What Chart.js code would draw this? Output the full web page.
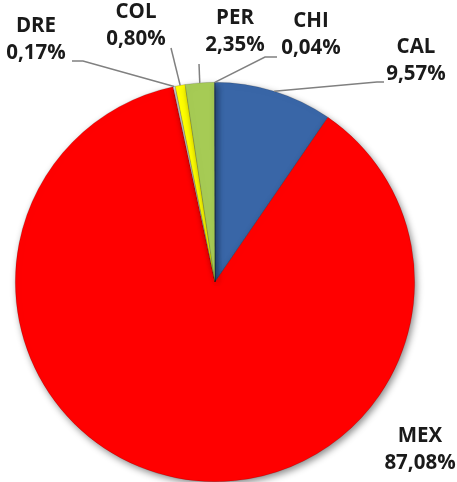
<!DOCTYPE html>
<html>
<head>
<meta charset="utf-8">
<script src="https://cdn.jsdelivr.net/npm/chart.js@4/dist/chart.umd.min.js"></script>
<style>
html,body{margin:0;padding:0;background:#fff;}
#wrap{width:457px;height:482px;position:relative;}
</style>
</head>
<body>
<div id="wrap"><canvas id="c" width="457" height="482"></canvas></div>
<script>
const categories = ["CAL", "MEX", "DRE", "COL", "PER", "CHI"];
const shares = [9.57, 87.08, 0.17, 0.80, 2.35, 0.04];
const valueLabels = ["9,57%", "87,08%", "0,17%", "0,80%", "2,35%", "0,04%"];
const colors = ["#3966A7", "#FF0000", "#D9D9D9", "#FFFF00", "#A6CB55", "#2F4F7F"];

// label layout: text center x, first line y, leader line path (from label to arc)
const labelLayout = [
  {x: 416, y: 47, line: [[384, 82], [377, 82]]},
  {x: 420, y: 436, line: null},
  {x: 36, y: 26, line: [[72, 61], [83, 61]]},
  {x: 136, y: 12, line: [[171, 48]]},
  {x: 235, y: 18, line: [[199, 64]]},
  {x: 311, y: 21, line: [[277, 57], [265, 57]]}
];

const labelPlugin = {
  id: 'pieLabels',
  afterDatasetsDraw(chart) {
    const ctx = chart.ctx;
    const meta = chart.getDatasetMeta(0);
    ctx.save();
    meta.data.forEach((arc, i) => {
      const L = labelLayout[i];
      if (L.line) {
        const mid = (arc.startAngle + arc.endAngle) / 2;
        const ax = arc.x + Math.cos(mid) * arc.outerRadius;
        const ay = arc.y + Math.sin(mid) * arc.outerRadius;
        ctx.beginPath();
        ctx.strokeStyle = '#808080';
        ctx.lineWidth = 1.5;
        ctx.moveTo(L.line[0][0], L.line[0][1]);
        for (let k = 1; k < L.line.length; k++) ctx.lineTo(L.line[k][0], L.line[k][1]);
        ctx.lineTo(ax, ay);
        ctx.stroke();
      }
      ctx.fillStyle = '#1a1a1a';
      ctx.font = 'bold 20.5px "Open Sans", "Liberation Sans", sans-serif';
      ctx.textAlign = 'center';
      ctx.textBaseline = 'middle';
      ctx.fillText(categories[i], L.x, L.y);
      ctx.fillText(valueLabels[i], L.x, L.y + 27);
    });
    ctx.restore();
  }
};

const shadowPlugin = {
  id: 'pieShadow',
  beforeDatasetsDraw(chart) {
    const ctx = chart.ctx;
    ctx.save();
    ctx.shadowColor = 'rgba(0,0,0,0.45)';
    ctx.shadowBlur = 7;
    ctx.shadowOffsetX = 2;
    ctx.shadowOffsetY = 3;
  },
  afterDatasetsDraw(chart) {
    chart.ctx.restore();
  }
};

new Chart(document.getElementById('c'), {
  type: 'pie',
  data: {
    labels: categories,
    datasets: [{
      data: shares,
      backgroundColor: colors,
      borderColor: 'rgba(0,0,0,0.25)',
      borderWidth: 0.6
    }]
  },
  options: {
    responsive: false,
    animation: false,
    layout: {padding: {left: 15, right: 42, top: 82, bottom: 0}},
    plugins: {legend: {display: false}, tooltip: {enabled: false}}
  },
  plugins: [shadowPlugin, labelPlugin]
});
</script>
</body>
</html>
